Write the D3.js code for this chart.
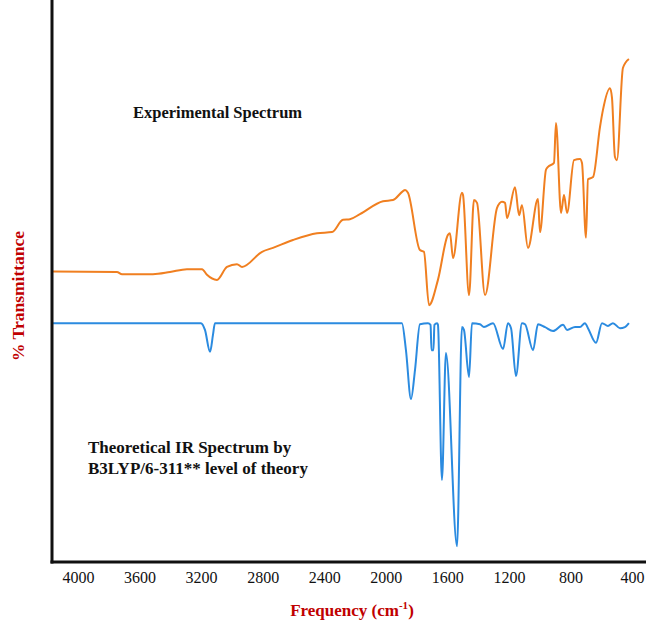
<!DOCTYPE html>
<html>
<head>
<meta charset="utf-8">
<script src="https://cdn.jsdelivr.net/npm/d3@7"></script>
<style>
  html, body { margin: 0; padding: 0; background: #fff; }
  svg { display: block; }
</style>
</head>
<body>
<svg id="chart" width="646" height="621"></svg>
<script>
// Tick labels along the wavenumber axis
const tickLabels = [4000, 3600, 3200, 2800, 2400, 2000, 1600, 1200, 800, 400];

// Experimental FT-IR spectrum: wavenumber (cm-1) and relative transmittance
const expWavenumber = [4162, 3747, 3714, 3513, 3402, 3292, 3194, 3162, 3097, 3032,
  2967, 2934, 2804, 2733, 2603, 2447, 2349, 2278, 2233, 2168,
  2018, 1953, 1888, 1875, 1856, 1778, 1752, 1719, 1661, 1596,
  1583, 1563, 1505, 1498, 1459, 1427, 1407, 1355, 1277, 1245,
  1225, 1212, 1160, 1134, 1115, 1076, 1011, 998, 959, 946,
  907, 894, 861, 842, 822, 777, 738, 725, 699, 686,
  653, 608, 589, 543, 530, 511, 498, 459, 420];
const expTransmittance = [51.7, 51.6, 51.2, 51.2, 51.6, 52.1, 52.1, 51.1, 50.2, 52.5,
  53.0, 52.5, 55.2, 55.9, 57.3, 58.5, 58.7, 60.9, 61.0, 61.9,
  64.2, 64.4, 66.0, 66.2, 65.7, 55.5, 55.2, 45.7, 50.2, 58.2,
  58.5, 54.1, 65.7, 65.3, 47.5, 64.4, 63.9, 47.5, 63.0, 64.1,
  63.9, 61.2, 66.7, 61.7, 63.5, 55.9, 64.6, 58.7, 69.8, 70.3,
  71.0, 78.1, 62.1, 65.3, 62.1, 71.5, 71.7, 71.0, 57.7, 68.1,
  68.5, 77.4, 80.4, 84.3, 82.6, 72.1, 71.5, 87.9, 89.5];

// Theoretical IR spectrum (B3LYP/6-311**), drawn on the same transmittance scale
const theoWavenumber = [4162, 3201, 3175, 3142, 3123, 3110, 1895, 1869, 1836, 1810,
  1778, 1726, 1709, 1703, 1690, 1684, 1667, 1661, 1635, 1609,
  1537, 1505, 1492, 1459, 1440, 1388, 1362, 1303, 1238, 1206,
  1186, 1154, 1115, 1095, 1043, 1011, 965, 913, 848, 822,
  770, 738, 706, 686, 634, 595, 556, 524, 478, 446, 420];
const theoTransmittance = [42.5, 42.5, 41.3, 37.4, 40.4, 42.5, 42.5, 37.7, 29.0, 34.2,
  42.3, 42.5, 42.2, 37.7, 37.7, 42.2, 42.5, 42.2, 14.6, 37.2,
  2.8, 41.8, 41.3, 32.9, 42.5, 42.3, 41.8, 42.5, 37.9, 42.5,
  41.6, 33.1, 42.5, 42.3, 37.7, 42.3, 41.8, 41.1, 42.2, 41.3,
  41.8, 41.8, 42.5, 41.6, 39.0, 42.5, 42.0, 42.5, 41.6, 41.8, 42.5];

const svg = d3.select("#chart");
const W = 646, H = 621;
const axisX = 52, axisY = 562;

const x = d3.scaleLinear().domain([4000, 400]).range([78, 632]);
const y = d3.scaleLinear().domain([0, 100]).range([axisY, 0]);

const serif = "'Liberation Serif', 'Times New Roman', serif";

const line = d3.line()
  .x(d => x(d[0]))
  .y(d => y(d[1]))
  .curve(d3.curveMonotoneX);

const expData = d3.zip(expWavenumber, expTransmittance);
const theoData = d3.zip(theoWavenumber, theoTransmittance);

svg.append("path")
  .datum(theoData)
  .attr("d", line)
  .attr("fill", "none")
  .attr("stroke", "#2b8be0")
  .attr("stroke-width", 2)
  .attr("stroke-linejoin", "round");

svg.append("path")
  .datum(expData)
  .attr("d", line)
  .attr("fill", "none")
  .attr("stroke", "#f07f20")
  .attr("stroke-width", 2)
  .attr("stroke-linejoin", "round");

// Frame: left and bottom axis lines
svg.append("line")
  .attr("x1", axisX).attr("x2", axisX)
  .attr("y1", 0).attr("y2", axisY + 1.5)
  .attr("stroke", "#111").attr("stroke-width", 3);
svg.append("line")
  .attr("x1", axisX - 1.5).attr("x2", W)
  .attr("y1", axisY).attr("y2", axisY)
  .attr("stroke", "#111").attr("stroke-width", 3);

// Wavenumber tick labels
const xAxis = d3.axisBottom(x)
  .tickValues(tickLabels)
  .tickFormat(d3.format("d"))
  .tickSize(0)
  .tickPadding(10);

const gx = svg.append("g")
  .attr("transform", `translate(0,${axisY})`)
  .call(xAxis);
gx.select(".domain").remove();
gx.selectAll("text")
  .attr("font-family", serif)
  .attr("font-size", 16)
  .attr("fill", "#111");

// Axis titles
const xt = svg.append("text")
  .attr("x", 352).attr("y", 616)
  .attr("text-anchor", "middle")
  .attr("font-family", serif)
  .attr("font-weight", "bold")
  .attr("font-size", 17)
  .attr("fill", "#c00000");
xt.append("tspan").text("Frequency (cm");
xt.append("tspan").text("-1").attr("font-size", 11).attr("dy", -7);
xt.append("tspan").text(")").attr("dy", 7);

svg.append("text")
  .attr("transform", "translate(24,296) rotate(-90)")
  .attr("text-anchor", "middle")
  .attr("font-family", serif)
  .attr("font-weight", "bold")
  .attr("font-size", 17.5)
  .attr("fill", "#c00000")
  .text("% Transmittance");

// Spectrum annotations
svg.append("text")
  .attr("x", 133).attr("y", 118)
  .attr("font-family", serif)
  .attr("font-weight", "bold")
  .attr("font-size", 16.5)
  .attr("fill", "#111")
  .text("Experimental Spectrum");

const note = svg.append("text")
  .attr("font-family", serif)
  .attr("font-weight", "bold")
  .attr("font-size", 17)
  .attr("fill", "#111");
note.append("tspan").attr("x", 88).attr("y", 453).text("Theoretical IR Spectrum by");
note.append("tspan").attr("x", 88).attr("y", 474).text("B3LYP/6-311** level of theory");
</script>
</body>
</html>
